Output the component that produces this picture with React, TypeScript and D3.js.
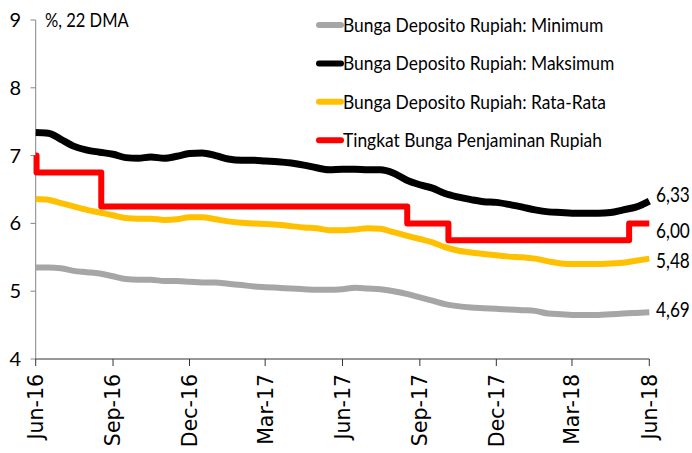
import React from 'react';
import * as d3 from 'd3';

// semi-monthly sample dates (22-day moving averages)
const dates = [
  '2016-06-01', '2016-06-16', '2016-07-01', '2016-07-16', '2016-08-01', '2016-08-16',
  '2016-09-01', '2016-09-16', '2016-10-01', '2016-10-16', '2016-11-01', '2016-11-16',
  '2016-12-01', '2016-12-16', '2017-01-01', '2017-01-16', '2017-02-01', '2017-02-16',
  '2017-03-01', '2017-03-16', '2017-04-01', '2017-04-16', '2017-05-01', '2017-05-16',
  '2017-06-01', '2017-06-16', '2017-07-01', '2017-07-16', '2017-08-01', '2017-08-16',
  '2017-09-01', '2017-09-16', '2017-10-01', '2017-10-16', '2017-11-01', '2017-11-16',
  '2017-12-01', '2017-12-16', '2018-01-01', '2018-01-16', '2018-02-01', '2018-02-16',
  '2018-03-01', '2018-03-16', '2018-04-01', '2018-04-16', '2018-05-01', '2018-05-16',
  '2018-06-01',
];

const minimum = [
  5.35, 5.35, 5.34, 5.30, 5.28, 5.26, 5.22, 5.18, 5.17, 5.17, 5.15, 5.15,
  5.14, 5.13, 5.13, 5.11, 5.09, 5.07, 5.06, 5.05, 5.04, 5.03, 5.02, 5.02,
  5.03, 5.05, 5.04, 5.03, 5.00, 4.96, 4.91, 4.86, 4.81, 4.78, 4.76, 4.75,
  4.74, 4.73, 4.72, 4.71, 4.67, 4.66, 4.65, 4.65, 4.65, 4.66, 4.67, 4.68,
  4.69,
];

const maksimum = [
  7.34, 7.33, 7.24, 7.14, 7.08, 7.05, 7.02, 6.97, 6.96, 6.98, 6.96, 6.99,
  7.03, 7.04, 7.00, 6.95, 6.93, 6.93, 6.92, 6.91, 6.89, 6.86, 6.82, 6.79,
  6.80, 6.80, 6.79, 6.79, 6.74, 6.64, 6.57, 6.52, 6.44, 6.39, 6.35, 6.32,
  6.31, 6.28, 6.24, 6.20, 6.17, 6.16, 6.15, 6.15, 6.15, 6.16, 6.20, 6.24,
  6.33,
];

const rataRata = [
  6.36, 6.35, 6.30, 6.25, 6.20, 6.16, 6.12, 6.08, 6.07, 6.07, 6.05, 6.06,
  6.09, 6.09, 6.06, 6.03, 6.01, 6.00, 5.99, 5.98, 5.96, 5.94, 5.93, 5.90,
  5.90, 5.91, 5.93, 5.92, 5.87, 5.82, 5.77, 5.72, 5.65, 5.60, 5.57, 5.55,
  5.53, 5.51, 5.50, 5.48, 5.44, 5.41, 5.40, 5.40, 5.40, 5.41, 5.42, 5.45,
  5.48,
];

// LPS guarantee rate: step changes
const lpsDates = ['2016-06-01', '2016-06-02', '2016-08-18', '2017-08-17', '2017-10-05', '2018-05-08', '2018-06-01'];
const lpsRates = [7.0, 6.75, 6.25, 6.0, 5.75, 6.0, 6.0];

const xTickDates = ['2016-06-01', '2016-09-01', '2016-12-01', '2017-03-01', '2017-06-01',
  '2017-09-01', '2017-12-01', '2018-03-01', '2018-06-01'];
const monthNames = ['Jan', 'Feb', 'Mar', 'Apr', 'May', 'Jun', 'Jul', 'Aug', 'Sep', 'Oct', 'Nov', 'Dec'];
const yTicks = [4, 5, 6, 7, 8, 9];

const seriesNames = [
  'Bunga Deposito Rupiah: Minimum',
  'Bunga Deposito Rupiah: Maksimum',
  'Bunga Deposito Rupiah: Rata-Rata',
  'Tingkat Bunga Penjaminan Rupiah',
];
const seriesColors = ['#a6a6a6', '#000000', '#ffc000', '#ff0000'];
const endLabels = ['4,69', '6,33', '5,48', '6,00'];

const parse = d3.timeParse('%Y-%m-%d');
const W = 692;
const H = 453;
const FONT = 'Lato, "Open Sans", sans-serif';
const NARROW = 0.87; // squeeze Lato toward a Calibri-like width

export default function App() {
  const x = d3.scaleTime()
    .domain([parse('2016-06-01')!, parse('2018-06-01')!])
    .range([35.7, 649.3]);
  const y = d3.scaleLinear().domain([4, 9]).range([359, 20]);

  const line = d3.line<[Date, number]>()
    .x(d => x(d[0]))
    .y(d => y(d[1]))
    .curve(d3.curveMonotoneX);
  const stepLine = d3.line<[Date, number]>()
    .x(d => x(d[0]))
    .y(d => y(d[1]))
    .curve(d3.curveStepAfter);

  const pts = (vals: number[]) => dates.map((d, i) => [parse(d)!, vals[i]] as [Date, number]);
  const lpsPts = lpsDates.map((d, i) => [parse(d)!, lpsRates[i]] as [Date, number]);

  const paths = [
    line(pts(minimum)),
    line(pts(maksimum)),
    line(pts(rataRata)),
    stepLine(lpsPts),
  ];
  const widths = [6, 7, 6, 6];

  // end labels (nudged apart vertically like the original)
  const lastVals = [minimum[minimum.length - 1], maksimum[maksimum.length - 1],
    rataRata[rataRata.length - 1], lpsRates[lpsRates.length - 1]];
  const labelNudge = [-2, -6, 2, 7];

  return (
    <svg width={W} height={H} style={{ position: 'absolute', left: 0, top: 0, background: '#fff' }}>
      {/* y axis */}
      <line x1={x.range()[0]} x2={x.range()[0]} y1={y(9)} y2={y(4)} stroke="#868686" strokeWidth={1} />
      {yTicks.map(t => (
        <g key={t}>
          <line x1={30.5} x2={35.7} y1={y(t)} y2={y(t)} stroke="#868686" strokeWidth={1} />
          <text x={21} y={y(t)} dy="0.35em" textAnchor="end" fontFamily={FONT} fontSize={20} fill="#000">{t}</text>
        </g>
      ))}
      <g transform={`translate(45,20) scale(${NARROW},1)`}>
        <text dy="0.35em" fontFamily={FONT} fontSize={19} fill="#000">%, 22 DMA</text>
      </g>

      {/* x axis */}
      <line x1={x.range()[0]} x2={x.range()[1]} y1={y(4)} y2={y(4)} stroke="#333" strokeWidth={1} />
      {xTickDates.map(s => {
        const d = parse(s)!;
        const label = `${monthNames[d.getMonth()]}-${String(d.getFullYear()).slice(2)}`;
        return (
          <g key={s} transform={`translate(${x(d)},0)`}>
            <line y1={y(4)} y2={y(4) + 7} stroke="#333" strokeWidth={1} />
            <text transform={`translate(0,${y(4) + 15}) rotate(-90)`} dy="0.36em" textAnchor="end"
              fontFamily='"DejaVu Sans", sans-serif' fontSize={20.5} fill="#000">{label}</text>
          </g>
        );
      })}

      {/* series */}
      {paths.map((p, i) => (
        <path key={i} d={p ?? ''} fill="none" stroke={seriesColors[i]} strokeWidth={widths[i]}
          strokeLinejoin="round" strokeLinecap="butt" />
      ))}

      {/* end labels */}
      {lastVals.map((v, i) => (
        <g key={i} transform={`translate(656,${y(v) + labelNudge[i]}) scale(${NARROW - 0.03},1)`}>
          <text dy="0.35em" fontFamily={FONT} fontSize={20.5} fill="#000">{endLabels[i]}</text>
        </g>
      ))}

      {/* legend */}
      {seriesNames.map((n, i) => {
        const ly = 25 + i * 38.4;
        return (
          <g key={n}>
            <line x1={319} x2={341} y1={ly} y2={ly} stroke={seriesColors[i]} strokeWidth={6} strokeLinecap="round" />
            <g transform={`translate(343,${ly}) scale(${NARROW},1)`}>
              <text dy="0.35em" fontFamily={FONT} fontSize={20} fill="#000">{n}</text>
            </g>
          </g>
        );
      })}
    </svg>
  );
}
